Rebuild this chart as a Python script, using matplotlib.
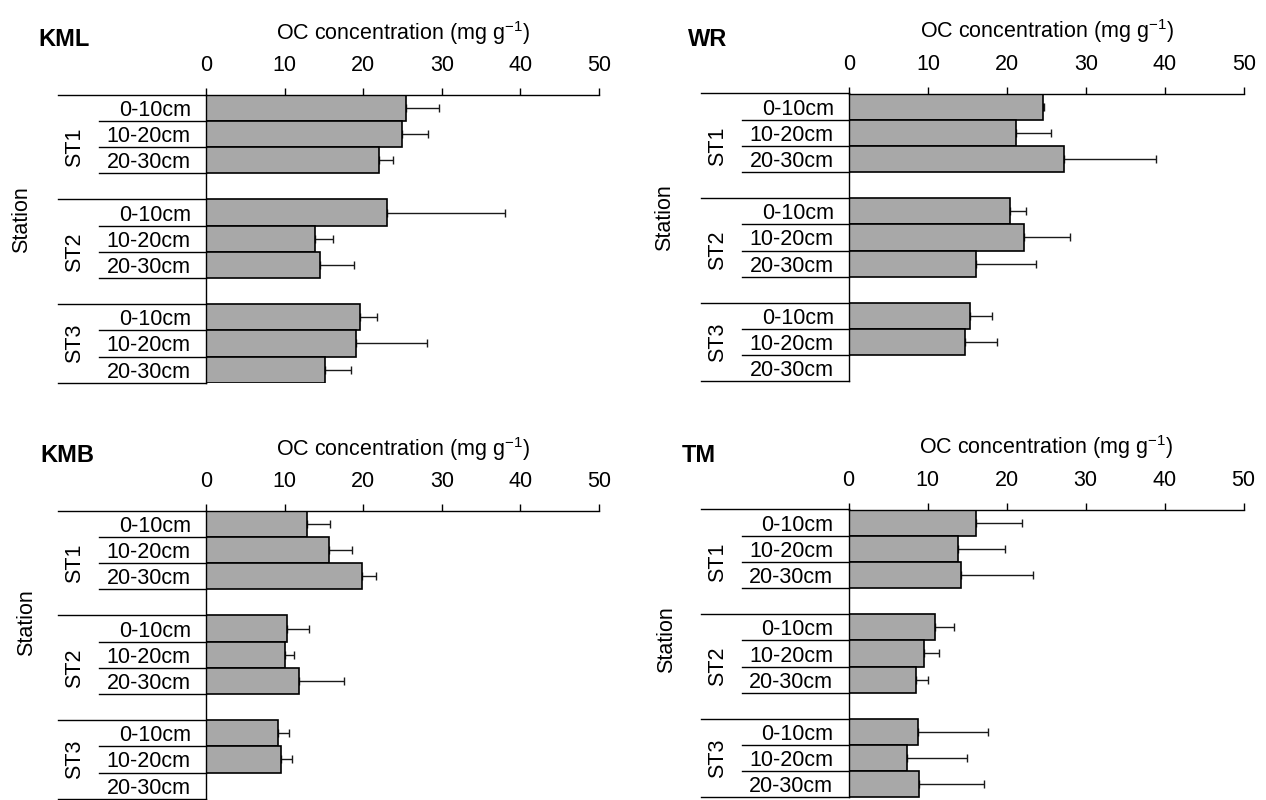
import numpy as np
import matplotlib
matplotlib.use("Agg")
import matplotlib.pyplot as plt

plt.rcParams['font.family'] = ['Liberation Sans', 'DejaVu Sans']
plt.rcParams['mathtext.fontset'] = 'custom'
plt.rcParams['mathtext.rm'] = 'Liberation Sans'
plt.rcParams['mathtext.default'] = 'regular'

# =============================================================================
# DATA
# =============================================================================

stations = ["ST1", "ST2", "ST3"]
depths   = ["0-10cm", "10-20cm", "20-30cm"]
sites    = ["KML", "WR", "KMB", "TM"]

# mean OC concentration, rows = station, cols = depth
kml_mean = [[25.4, 24.9, 22.0], [23.0, 13.9, 14.5], [19.6, 19.1, 15.1]]
kml_err  = [[4.3, 3.3, 1.8], [15.0, 2.2, 4.3], [2.2, 9.0, 3.3]]
wr_mean  = [[24.5, 21.2, 27.2], [20.4, 22.1, 16.1], [15.3, 14.7, np.nan]]
wr_err   = [[0.2, 4.4, 11.7], [2.0, 5.9, 7.6], [2.8, 4.0, np.nan]]
kmb_mean = [[12.8, 15.7, 19.9], [10.3, 10.1, 11.8], [9.2, 9.6, np.nan]]
kmb_err  = [[3.0, 2.9, 1.7], [2.8, 1.1, 5.8], [1.3, 1.3, np.nan]]
tm_mean  = [[16.2, 13.9, 14.3], [11.0, 9.5, 8.6], [8.8, 7.4, 8.9]]
tm_err   = [[5.7, 5.9, 9.0], [2.4, 2.0, 1.4], [8.8, 7.6, 8.3]]

xticks = [0, 10, 20, 30, 40, 50]

# =============================================================================
# LAYOUT (pixels in a 1266 x 800 figure)
# =============================================================================

W, H = 1266, 800
# left, right, top, bottom of each bar area
boxes = {"KML": (206, 599, 94.7, 382.7),
         "WR":  (849, 1244, 93.5, 381.5),
         "KMB": (206, 599, 510.7, 798.7),
         "TM":  (848.5, 1243.5, 509.5, 797.5)}
title_xy   = {"KML": (38, 40), "WR": (688, 40), "KMB": (40, 456), "TM": (682, 456)}
station_xy = {"KML": (22, 220), "WR": (665, 218), "KMB": (27, 623), "TM": (667, 640)}

FS = 15.5
BAR_COLOR = "#a8a8a8"


def draw_panel(fig, name, means, errs):
    x0, x1, top, bot = boxes[name]
    ax = fig.add_axes([x0 / W, 1 - bot / H, (x1 - x0) / W, (bot - top) / H])
    wpx = x1 - x0

    means = np.array(means, dtype=float)
    errs  = np.array(errs, dtype=float)
    rows  = np.array([[s * 4 + d for d in range(3)] for s in range(3)])

    r = rows.ravel()
    v = means.ravel()
    e = errs.ravel()
    ok = ~np.isnan(v)
    ax.errorbar(v[ok], r[ok], xerr=[np.zeros(ok.sum()), e[ok]], fmt='none',
                ecolor='#1a1a1a', elinewidth=1.0, capsize=2.6, capthick=1.0,
                zorder=1)
    ax.barh(r[ok], v[ok], height=1.0, color=BAR_COLOR, edgecolor='black',
            linewidth=1.2, zorder=2)

    ax.set_xlim(0, 50)
    ax.set_ylim(10.5, -0.5)

    # top axis with outward ticks
    ax.xaxis.tick_top()
    ax.set_xticks(xticks)
    ax.tick_params(axis='x', direction='out', length=5, width=1, pad=8.5,
                   labelsize=FS)
    ax.set_xlabel("OC concentration (mg g$^{-1}$)", fontsize=FS, labelpad=11)
    ax.xaxis.set_label_position('top')

    # depth labels as y ticks
    ax.set_yticks(r)
    ax.set_yticklabels(depths * 3, fontsize=FS)
    ax.tick_params(axis='y', length=0, pad=11)

    for side in ("right", "bottom"):
        ax.spines[side].set_visible(False)
    ax.spines['top'].set_linewidth(1.0)
    ax.spines['left'].set_linewidth(1.0)

    # multi-level category lines
    tr = ax.get_yaxis_transform()
    for yb in [-0.5, 3.5, 7.5, 10.5]:
        ax.plot([-148 / wpx, 0], [yb, yb], color='black', lw=1.0,
                transform=tr, clip_on=False)
    for yb in [0.5, 1.5, 2.5, 4.5, 5.5, 6.5, 8.5, 9.5]:
        ax.plot([-107 / wpx, 0], [yb, yb], color='black', lw=1.0,
                transform=tr, clip_on=False)

    # station labels
    for s, yc in zip(stations, [1.5, 5.5, 9.0]):
        ax.text(-131 / wpx, yc, s, transform=tr, rotation=90, ha='center',
                va='center', fontsize=FS)

    tx, ty = title_xy[name]
    fig.text(tx / W, 1 - ty / H, name, fontsize=17, fontweight='bold',
             ha='left', va='center')
    sx, sy = station_xy[name]
    fig.text(sx / W, 1 - sy / H, "Station", rotation=90, fontsize=FS,
             ha='center', va='center')
    return ax


fig = plt.figure(figsize=(W / 100, H / 100), dpi=100)
draw_panel(fig, "KML", kml_mean, kml_err)
draw_panel(fig, "WR",  wr_mean,  wr_err)
draw_panel(fig, "KMB", kmb_mean, kmb_err)
draw_panel(fig, "TM",  tm_mean,  tm_err)

fig.savefig("out.png", dpi=100)
